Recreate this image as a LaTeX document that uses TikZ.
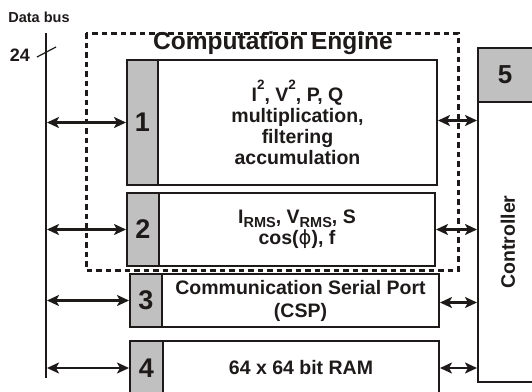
\documentclass[tikz,border=0pt]{standalone}
\usepackage{fontspec}
\setmainfont{Liberation Sans}
\newfontfamily\dejavu{DejaVu Sans}
\usetikzlibrary{arrows.meta}
\definecolor{boxgray}{RGB}{192,192,192}
\definecolor{ink}{RGB}{30,26,26}
\newcommand\mysup[1]{\raisebox{12.5pt}{\fontsize{13.5}{13.5}\selectfont #1}}
\newcommand\mysub[1]{\raisebox{-4pt}{\fontsize{14.5}{14.5}\selectfont #1}}
\begin{document}
\begin{tikzpicture}[x=1pt,y=-1pt,
  every node/.style={font=\bfseries, text=ink},
  blk/.style={draw=ink, line width=2pt, inner sep=0pt, fill=white},
  numblk/.style={blk, fill=boxgray, font=\bfseries\fontsize{27}{27}\selectfont},
  txt/.style={font=\bfseries\fontsize{19.5}{21}\selectfont, align=center},
  conn/.style={draw=ink, line width=2.2pt, {Stealth[length=12pt,width=11pt,inset=3pt]}-{Stealth[length=12pt,width=11pt,inset=3pt]}},
  engine/.style={draw=ink, line width=3pt, dash pattern=on 5.5pt off 4pt}
]
\useasboundingbox (0,0) rectangle (532,391);
\clip (0,0) rectangle (532,391);
\fill[white] (0,0) rectangle (532,391);

% computation engine frame
\draw[engine] (86,33) rectangle (458,270);
\node[anchor=base, font=\bfseries\fontsize{24.5}{24.5}\selectfont] (title) at (273,49) {Computation Engine};

% data bus
\coordinate (bustop) at (46,33);
\coordinate (busbot) at (46,378);
\draw[draw=ink, line width=2.6pt] (bustop) -- (busbot);
\coordinate (tickA) at (37,57);
\coordinate (tickB) at (56,47);
\draw[draw=ink, line width=1.2pt] (tickA) -- (tickB);
\node[font=\bfseries\fontsize{14.5}{15}\selectfont] (databus) at (39,17) {Data bus};
\node[font=\bfseries\fontsize{18}{18}\selectfont] (width) at (20,55) {24};

% block 1
\node[numblk, minimum width=31pt, minimum height=125pt] (g1) at (142.5,122.5) {1};
\node[blk, txt, minimum width=279pt, minimum height=125pt] (w1) at (297.5,122.5)
  {I\mysup{2}, V\mysup{2}, P, Q\\multiplication,\\filtering\\accumulation};

% block 2
\node[numblk, minimum width=32pt, minimum height=73pt] (g2) at (143,229.5) {2};
\node[blk, txt, minimum width=276pt, minimum height=73pt] (w2) at (297,229.5)
  {I\mysub{RMS}, V\mysub{RMS}, S\\cos({\mdseries\dejavu ϕ}), f};

% block 3
\node[numblk, minimum width=32pt, minimum height=53pt] (g3) at (146,300.5) {3};
\node[blk, txt, minimum width=277pt, minimum height=53pt, font=\bfseries\fontsize{19.5}{23}\selectfont] (w3) at (300.5,300.5)
  {Communication Serial Port\\(CSP)};

% block 4
\node[numblk, minimum width=33pt, minimum height=54pt] (g4) at (146.5,368) {4};
\node[blk, txt, minimum width=276pt, minimum height=54pt] (w4) at (301,368)
  {64 x 64 bit RAM};

% controller
\node[blk, minimum width=67pt, minimum height=334pt] (ctrl) at (511.5,215) {};
\node[numblk, minimum width=67pt, minimum height=54pt] (g5) at (511.5,75) {};
\node[font=\bfseries\fontsize{26}{26}\selectfont] (n5) at (505,75) {5};
\node[rotate=90, font=\bfseries\fontsize{19.5}{19.5}\selectfont] (ctrllabel) at (508,242) {Controller};

% bus connectors
\draw[conn] ([xshift=1pt]bustop |- g1.west) -- (g1.west);
\draw[conn] ([xshift=1pt]bustop |- g2.west) -- (g2.west);
\draw[conn] ([xshift=1pt]bustop |- g3.west) -- (g3.west);
\draw[conn] ([xshift=1pt]bustop |- g4.west) -- (g4.west);

% controller connectors
\draw[conn] ([yshift=2pt]w1.east) -- ([yshift=2pt]w1.east -| ctrl.west);
\draw[conn] (w2.east) -- (w2.east -| ctrl.west);
\draw[conn] ([yshift=-2pt]w3.east) -- ([yshift=-2pt]w3.east -| ctrl.west);
\draw[conn] (w4.east) -- (w4.east -| ctrl.west);
\end{tikzpicture}
\end{document}
